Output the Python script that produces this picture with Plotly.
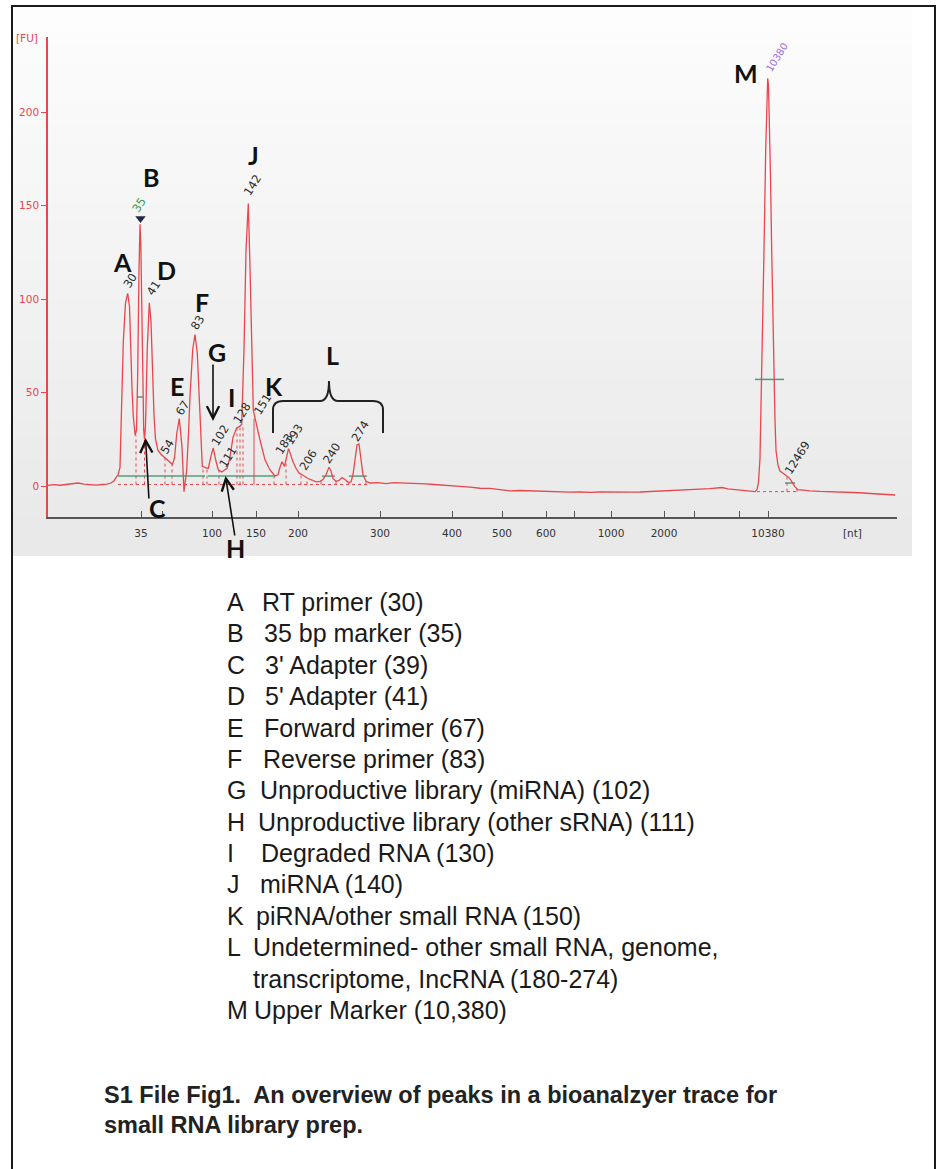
import plotly.graph_objects as go

W, H = 938, 1169

# ---------------- data ----------------
# position along the migration (time) axis, arbitrary units
migration = [48, 54, 60, 66, 72, 78, 84, 90, 96, 102, 107, 111, 114, 116, 118, 120, 121.5, 123.3, 125.5, 127.7,
             129.5, 130.7, 132, 133.3, 135.2, 136.5, 137.7, 139, 140, 140.8, 141.8, 142.7, 143.7, 144.5, 145.5,
             147.3, 149.3, 151, 152.7, 154, 155.5, 158, 161, 164, 167, 170, 172.5, 174.5, 176.7, 179.3, 182, 184,
             186.7, 188.5, 190, 192.7, 195, 197.3, 200, 202.3, 206.7, 208.3, 211.7, 213.3, 215.7, 218.3, 221.7,
             225, 227.3, 230, 233, 236.7, 240, 241.7, 244, 246, 248.3, 250, 251.7, 253.3, 256, 258, 260, 265, 270,
             275, 278, 280, 282, 284.5, 286.5, 288.5, 290.5, 293, 296, 299, 302, 305, 308, 312, 316, 320, 323, 326,
             329, 331, 333, 336, 339, 342, 345, 348, 351, 353, 355, 357, 359, 361, 363, 366, 370, 378, 386, 394,
             402, 410, 418, 426, 434, 442, 450, 460, 470, 480, 490, 500, 510, 520, 530, 540, 550, 560, 570, 580,
             590, 600, 610, 620, 630, 640, 650, 660, 670, 680, 690, 700, 710, 716, 722, 728, 736, 744, 750, 755,
             757, 758.5, 760, 761.7, 764, 765.7, 767, 767.7, 768.5, 769.5, 770.5, 771.7, 773, 774, 775, 776, 778,
             780, 782.5, 785, 787, 789, 791, 793, 795, 798, 803, 810, 820, 830, 840, 850, 860, 870, 880, 890, 895]
fu = [0.3, 0.7, 0.4, 0.9, 1.4, 1.6, 1.0, 0.6, 0.5, 0.8, 1.0, 1.6, 2.8, 4.5, 6.0, 10, 35, 77, 98, 103,
      96, 72, 52, 37, 27, 30, 60, 115, 140, 130, 95, 57, 30, 25, 32,
      74, 98, 88, 57, 38, 25, 19, 17, 15.5, 14.5, 12.5, 11.5, 15, 27.8, 36, 20.8, -3,
      8.6, 28, 48, 73, 81, 71, 35, 10.5, 9.6, 9.5, 17.6, 20.3, 13.9, 8.6, 7.5,
      8.6, 9.6, 15.6, 26, 31, 32, 33, 73, 126, 151, 117, 73, 40.6, 34, 30, 24.6, 14, 8.6,
      5.4, 6, 10, 13, 10.5, 15, 20, 17, 13, 9.5, 7, 6, 5, 4, 3.2, 2.2, 2.5, 3.5, 6,
      10, 8, 4, 2.5, 3, 4.5, 3.5, 2, 2.2, 6, 15, 22, 22.5, 14, 6, 2.5, 1.6, 1.8, 1.3, 1.8,
      1.7, 1.4, 1.6, 1.1, 0.8, 0.4, 0.3, -0.2, -0.6, -1.2, -1.3, -2.0, -2.6, -2.4, -2.6, -2.9, -2.8, -3.1, -3.3, -3.2,
      -3.4, -3.2, -3.3, -3.1, -3.3, -3.2, -3.0, -2.8, -2.4, -2.2, -2.0, -1.7, -1.4, -1.0, -0.8, -1.5, -2.0, -2.4, -2.8, -3.0,
      -2.0, 2, 15, 57, 126, 180, 212, 218, 214, 195, 165, 126, 85, 57, 35, 19, 11,
      8, 7, 6, 5.5, 4.5, 3, 1, -0.5, -2, -2.3, -2.6, -2.9, -3.0, -3.2, -3.5, -3.6, -4.0, -4.3, -4.6, -4.8]

# ladder: axis position of each size label
ladder_pos = [141, 162, 212, 256, 298, 380, 452, 502, 546, 574, 611, 664, 694, 739, 768]
ladder_nt = ['35', '', '100', '150', '200', '300', '400', '500', '600', '', '1000', '2000', '', '', '10380']

# called peaks (label, migration position, FU at apex)
peak_names = ['30', '35', '41', '54', '67', '83', '102', '111', '128', '142', '151', '183', '193', '206',
              '240', '274', '10380', '12469']
peak_pos = [127.7, 140, 149.3, 165, 179.3, 195, 213.3, 223, 238, 248.3, 256, 282, 288.5, 302, 329, 358,
            767.7, 787]
peak_fu = [103, 140, 98, 15, 36, 81, 20.3, 8, 31, 151, 34, 13, 20, 6, 10, 22.5, 218, 5.5]

# peak-window split lines (position, top FU)
split_pos = [136, 144.5, 165, 172, 203, 207, 219, 237, 240, 243, 274, 286, 301, 307, 321, 336, 349, 366,
             787, 797]
split_top = [27, 25, 15.5, 11.5, 10.5, 9.5, 8.6, 31, 32, 33, 5.4, 14, 6.3, 4, 2.6, 2.5, 2.1, 2.5, 5.5, -1.5]
split_base = [0.8] * 18 + [-3.0, -3.0]

# local baselines (start, end, FU)
base_x0 = [118, 208, 322, 349]
base_x1 = [205, 275, 335, 367]
base_fu = [5.3, 5.3, 5.3, 5.3]

# half-height markers (start, end, FU)
half_x0 = [137, 755, 785]
half_x1 = [143, 784, 795]
half_fu = [47.6, 57, 1.6]

# letters for the named regions
region_letters = ['A', 'B', 'C', 'D', 'E', 'F', 'G', 'H', 'I', 'J', 'K', 'L', 'M']
legend_letters = ['A', 'B', 'C', 'D', 'E', 'F', 'G', 'H', 'I', 'J', 'K', 'L', '', 'M']
legend_text = ['RT primer (30)', '35 bp marker (35)', "3' Adapter (39)", "5' Adapter (41)",
               'Forward primer (67)', 'Reverse primer (83)', 'Unproductive library (miRNA) (102)',
               'Unproductive library (other sRNA) (111)', 'Degraded RNA (130)', 'miRNA (140)',
               'piRNA/other small RNA (150)', 'Undetermined- other small RNA, genome,',
               'transcriptome, IncRNA (180-274)', 'Upper Marker (10,380)']
caption = ['S1 File Fig1.  An overview of peaks in a bioanalzyer trace for', 'small RNA library prep.']

# ---------------- layout helpers ----------------
AX_L, AX_R = 48, 897       # pixel extent of x axis
AX_T, AX_B = 37, 517       # pixel extent of y axis
Y0_PX, PX_PER_FU = 486, 93.5 / 50


def fu_at(pyv):
    return (Y0_PX - pyv) / PX_PER_FU


def X(p):
    return p / W


def Y(p):
    return 1 - p / H


RED = '#e8474c'
fig = go.Figure()

# split lines
sx, sy = [], []
for x, t, b in zip(split_pos, split_top, split_base):
    sx += [x, x, None]
    sy += [b, t, None]
fig.add_trace(go.Scatter(x=sx, y=sy, mode='lines', line=dict(color=RED, width=1, dash='dot'),
                         hoverinfo='skip', showlegend=False))
# red dotted zero baselines
fig.add_trace(go.Scatter(x=[118, 367, None, 757, 797], y=[0.8, 0.8, None, -3.0, -3.0], mode='lines',
                         line=dict(color=RED, width=1, dash='dot'), hoverinfo='skip', showlegend=False))
# green local baselines
gx, gy = [], []
for a, b, v in zip(base_x0, base_x1, base_fu):
    gx += [a, b, None]
    gy += [v, v, None]
fig.add_trace(go.Scatter(x=gx, y=gy, mode='lines', line=dict(color='#5a9c7c', width=1.5),
                         hoverinfo='skip', showlegend=False))
hx, hy = [], []
for a, b, v in zip(half_x0, half_x1, half_fu):
    hx += [a, b, None]
    hy += [v, v, None]
fig.add_trace(go.Scatter(x=hx, y=hy, mode='lines', line=dict(color='#4f9a78', width=1.5),
                         hoverinfo='skip', showlegend=False))
# solid split under the 151 shoulder
fig.add_trace(go.Scatter(x=[254, 254], y=[0.8, 36], mode='lines', line=dict(color=RED, width=1),
                         hoverinfo='skip', showlegend=False))
# main electropherogram
fig.add_trace(go.Scatter(x=migration, y=fu, mode='lines', line=dict(color=RED, width=1.3),
                         hoverinfo='skip', showlegend=False))
# marker peak triangle
fig.add_trace(go.Scatter(x=[peak_pos[1] + 0.5], y=[143], mode='markers',
                         marker=dict(symbol='triangle-down', size=9, color='#1f2a44'),
                         hoverinfo='skip', showlegend=False))

shapes = []
# background gradient panel
N = 28
top, bot = 6, 556
for i in range(N):
    y0 = top + (bot - top) * i / N
    y1 = top + (bot - top) * (i + 1) / N
    g = int(253 - (253 - 233) * i / (N - 1))
    shapes.append(dict(type='rect', xref='paper', yref='paper', x0=X(12), x1=X(912), y0=Y(y1), y1=Y(y0) + 0.0005,
                       fillcolor=f'rgb({g},{g},{g})', line=dict(width=0), layer='below'))
# outer frame
shapes.append(dict(type='rect', xref='paper', yref='paper', x0=X(12), x1=X(935), y0=-0.02, y1=Y(6),
                   line=dict(color='#1a1a1a', width=2), fillcolor='rgba(0,0,0,0)', layer='above'))
# brace for L
path = 'M {},{} L {},{} Q {},{} {},{} L {},{} Q {},{} {},{} M {},{} Q {},{} {},{} L {},{} Q {},{} {},{} L {},{}'.format(
    X(273), Y(433), X(273), Y(410), X(273), Y(401), X(283), Y(401), X(320), Y(401), X(329), Y(401), X(329), Y(381),
    X(329), Y(381), X(329), Y(401), X(338), Y(401), X(373), Y(401), X(383), Y(401), X(383), Y(410), X(383), Y(433))
shapes.append(dict(type='path', xref='paper', yref='paper', path=path, line=dict(color='#222', width=2)))

ann = []
# peak size labels
lab_off = {'30': (3, -13), '35': (-1, -19), '41': (4, -15), '54': (2, -11), '67': (3, -11), '83': (2, -12),
           '102': (7, -13), '111': (5, -14), '128': (4, -15), '142': (4, -19), '151': (7, -18), '183': (2, -18),
           '193': (5, -14), '206': (6, -15), '240': (3, -14), '274': (2, -13), '10380': (9, -21), '12469': (10, -18)}
ymap = lambda v: Y0_PX - v * PX_PER_FU
for name, xp, v in zip(peak_names, peak_pos, peak_fu):
    dx, dy = lab_off[name]
    col = '#2b2b2b'
    size = 11.5
    if name == '35':
        col = '#3c9a56'
    if name == '10380':
        col = '#a06ad8'
        size = 10
    ann.append(dict(x=X(xp + dx), y=Y(ymap(v) + dy), xref='paper', yref='paper', text=name,
                    showarrow=False, textangle=-58, font=dict(family='DejaVu Sans', size=size, color=col),
                    xanchor='center', yanchor='middle'))
# region letters
letter_px = {'A': (122, 262), 'B': (151, 177), 'C': (157, 508), 'D': (166, 270), 'E': (177, 386),
             'F': (202, 302), 'G': (217, 352), 'H': (235, 548), 'I': (231, 397), 'J': (253, 155),
             'K': (274, 386), 'L': (332, 355), 'M': (746, 73)}
for L in region_letters:
    a, b = letter_px[L]
    ann.append(dict(x=X(a), y=Y(b), xref='paper', yref='paper', text=f'<b>{L}</b>', showarrow=False,
                    font=dict(family='Lato', size=25, color='#111'), xanchor='center', yanchor='middle'))
# arrows (head, tail)
for (hxp, hyp), (txp, typ) in [((213, 421), (213, 363)), ((145.5, 438), (149, 500)), ((225.5, 476), (235, 537))]:
    ann.append(dict(x=X(hxp), y=Y(hyp), xref='paper', yref='paper', ax=txp - hxp, ay=typ - hyp,
                    axref='pixel', ayref='pixel', text='', showarrow=True, arrowhead=5, arrowsize=1.5,
                    arrowwidth=1.6, arrowcolor='#111', standoff=0))
# axis unit labels
ann.append(dict(x=X(27), y=Y(38), xref='paper', yref='paper', text='[FU]', showarrow=False,
                font=dict(family='DejaVu Sans', size=10.5, color=RED), xanchor='center', yanchor='middle'))
ann.append(dict(x=X(852), y=Y(533), xref='paper', yref='paper', text='[nt]', showarrow=False,
                font=dict(family='DejaVu Sans', size=10.5, color='#333'), xanchor='center', yanchor='middle'))
# legend list
desc_x = [260, 262, 263, 263, 262, 261, 258, 256, 259, 258, 254, 251, 251, 252]
for i, (L, t) in enumerate(zip(legend_letters, legend_text)):
    yy = 602 + 31.38 * i
    if L:
        ann.append(dict(x=X(225), y=Y(yy), xref='paper', yref='paper', text=L, showarrow=False,
                        font=dict(family='Liberation Sans', size=25, color='#1a1a1a'), xanchor='left',
                        yanchor='middle'))
    ann.append(dict(x=X(desc_x[i]), y=Y(yy), xref='paper', yref='paper', text=t, showarrow=False,
                    font=dict(family='Liberation Sans', size=25, color='#1a1a1a'), xanchor='left',
                    yanchor='middle'))
for i, t in enumerate(caption):
    ann.append(dict(x=X(102), y=Y(1095 + 30 * i), xref='paper', yref='paper', text=f'<b>{t}</b>',
                    showarrow=False, font=dict(family='Liberation Sans', size=23.5, color='#222'),
                    xanchor='left', yanchor='middle'))

fig.update_layout(
    width=W, height=H, margin=dict(l=0, r=0, t=0, b=0),
    paper_bgcolor='white', plot_bgcolor='rgba(0,0,0,0)',
    shapes=shapes, annotations=ann,
    xaxis=dict(domain=[X(AX_L), X(AX_R)], range=[AX_L, AX_R], tickmode='array', tickvals=ladder_pos,
               ticktext=ladder_nt, ticks='inside', ticklen=6, tickcolor='#555', tickwidth=1.2,
               showline=True, linecolor='#555', linewidth=2, showgrid=False, zeroline=False,
               ticklabelstandoff=5,
               tickfont=dict(family='DejaVu Sans', size=10.5, color='#333')),
    yaxis=dict(domain=[Y(AX_B), Y(AX_T)], range=[fu_at(AX_B), fu_at(AX_T)], tickmode='array',
               tickvals=[0, 50, 100, 150, 200], ticks='outside', ticklen=5, tickcolor=RED,
               showline=True, linecolor=RED, linewidth=1.5, showgrid=False, zeroline=False,
               tickfont=dict(family='DejaVu Sans', size=10.5, color=RED)),
)

fig.write_html('out.html')
